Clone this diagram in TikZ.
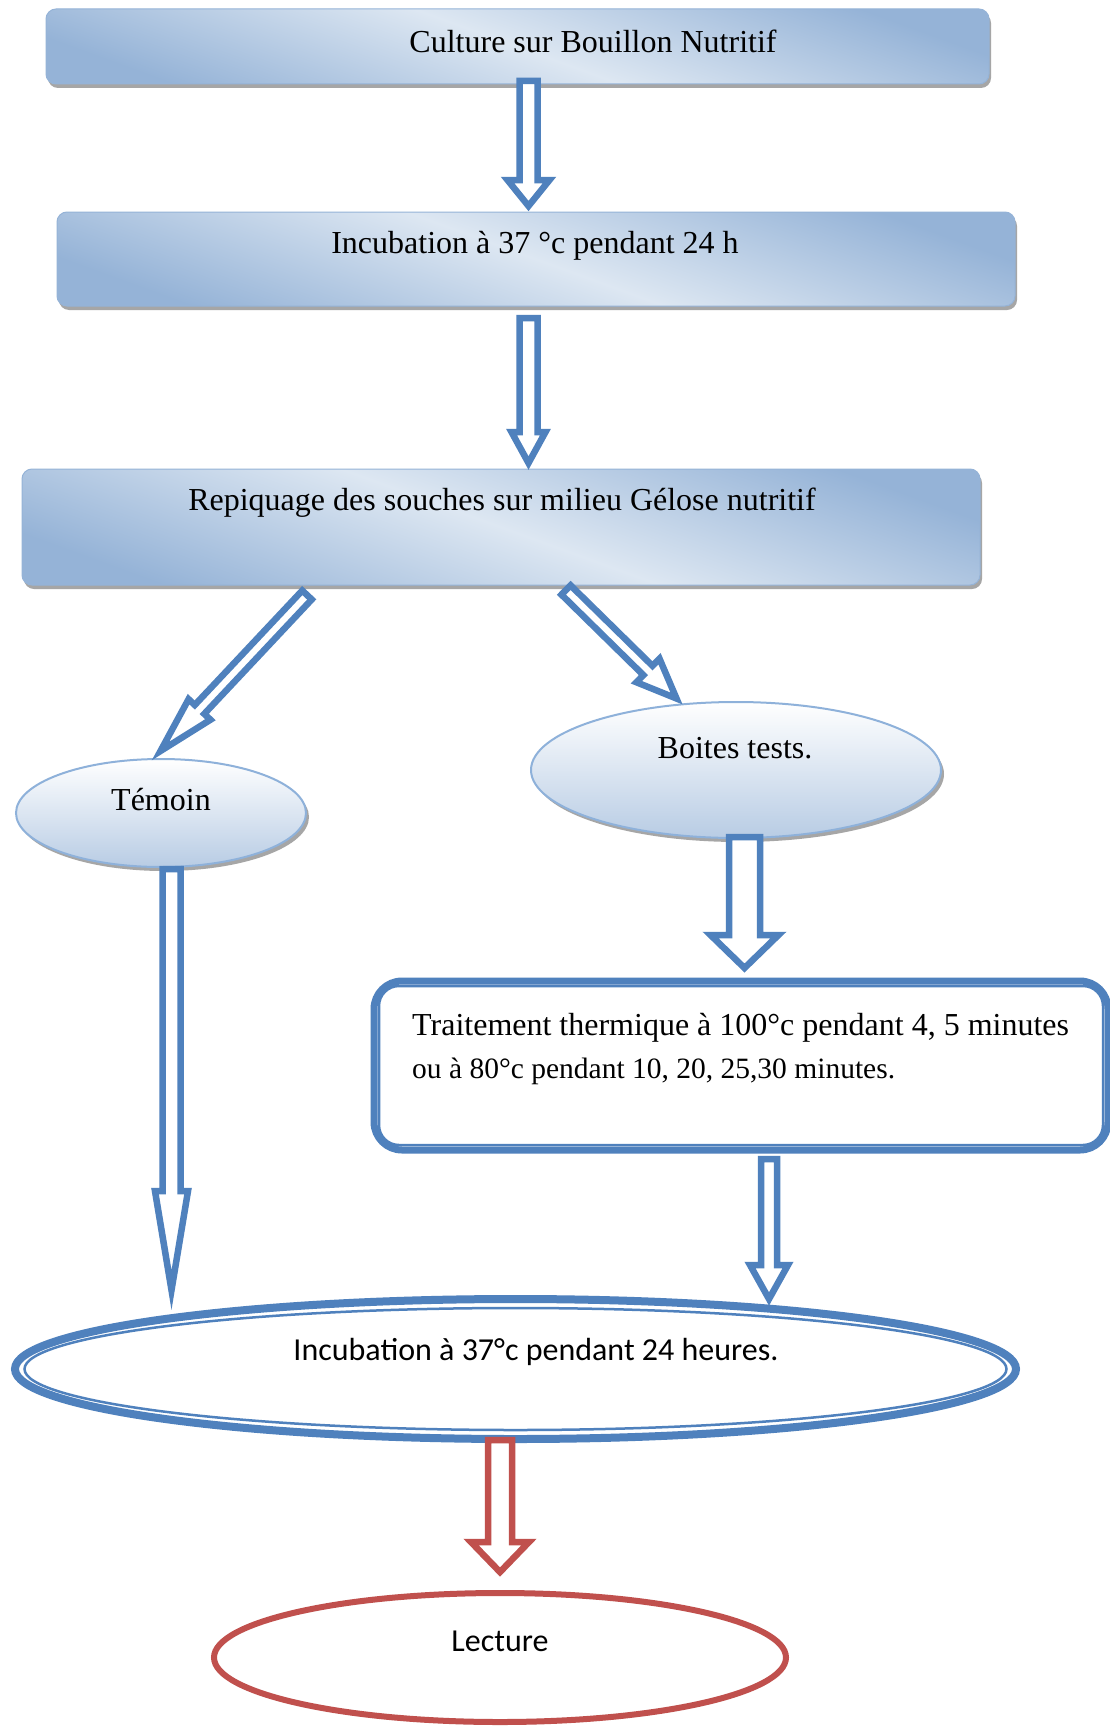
\documentclass[tikz,border=0pt]{standalone}
\usepackage{fontspec}
\setmainfont{Liberation Serif}
\newfontfamily\calib{Carlito}
\usetikzlibrary{calc,shapes.geometric,shadows}
\definecolor{wblue}{HTML}{4F81BD}
\definecolor{wred}{HTML}{C0504D}
\definecolor{bdark}{HTML}{95B3D7}
\definecolor{blight}{HTML}{DDE7F2}
\definecolor{eborder}{HTML}{8EB1DA}
\definecolor{ebottom}{HTML}{B8CCE4}
\definecolor{shad}{HTML}{A6A6A6}
\tikzset{
  gbox/.style={rectangle, rounded corners=10, draw=bdark, line width=1,
    top color=bdark, bottom color=bdark, middle color=blight, shading angle=-20,
    drop shadow={shadow xshift=2pt, shadow yshift=-4pt, fill=shad, opacity=1},
    inner sep=0pt},
  gell/.style={ellipse, draw=eborder, line width=2, top color=white, bottom color=ebottom,
    drop shadow={shadow xshift=3pt, shadow yshift=-4pt, fill=shad, opacity=1},
    inner sep=0pt},
  serif32/.style={font=\fontsize{32}{38}\selectfont, inner sep=0pt},
  sans32/.style={font=\calib\fontsize{32}{38}\selectfont, inner sep=0pt},
  barrow/.style={line width=6.5, fill=white, line join=miter},
}
\newcommand\blockarrow[6]{%
  \path ($(#3)!#6!(#2)$) coordinate (bah);
  \draw[barrow, draw=#1]
    ($(#2)!#4!90:(#3)$) -- ($(bah)!#4!-90:(#2)$) -- ($(bah)!#5!-90:(#2)$) -- (#3)
    -- ($(bah)!#5!90:(#2)$) -- ($(bah)!#4!90:(#2)$) -- ($(#2)!#4!-90:(#3)$) -- cycle;
}
\begin{document}
\begin{tikzpicture}[x=1pt, y=-1pt]
\useasboundingbox (0,0) rectangle (1110,1726);
\fill[white] (0,0) rectangle (1110,1726);

% boxes
\node[gbox, minimum width=943, minimum height=75] (b1) at (517.5,46.5) {};
\node[serif32] (t1) at (593,41) {Culture sur Bouillon Nutritif};
\node[gbox, minimum width=958, minimum height=94] (b2) at (536,259) {};
\node[serif32] (t2) at (535,246) {Incubation à 37 °c pendant 24 h};
\node[gbox, minimum width=958, minimum height=116] (b3) at (501,527) {};
\node[serif32] (t3) at (502,503) {Repiquage des souches sur milieu Gélose nutritif};

% ellipses
\node[gell, minimum width=290, minimum height=108] (tem) at (161,813) {};
\node[serif32] (ttem) at (161,800) {Témoin};
\node[gell, minimum width=410, minimum height=136] (boi) at (736,770) {};
\node[serif32] (tboi) at (735,748) {Boites tests.};

% traitement box
\node[rectangle, rounded corners=28, draw=wblue, line width=7, minimum width=734, minimum height=169] (tr) at (741,1065.5) {};
\draw[wblue, line width=2.5, rounded corners=20] ([shift={(8.5,8.5)}]tr.north west) rectangle ([shift={(-8.5,-8.5)}]tr.south east);
\node[anchor=base west, inner sep=0pt, font=\fontsize{32}{38}\selectfont] (ttr1) at (412,1035)
  {Traitement thermique à 100°c pendant 4, 5 minutes};
\node[anchor=base west, inner sep=0pt, font=\fontsize{29.5}{36}\selectfont] (ttr2) at (412,1078)
  {ou à 80°c pendant 10, 20, 25,30 minutes.};

% big incubation ellipse
\node[ellipse, draw=wblue, line width=8, minimum width=1001, minimum height=140, inner sep=0pt] (inc) at (515.5,1369) {};
\draw[wblue, line width=2.5] (inc.center) ellipse [x radius=491pt, y radius=61pt];
\node[sans32] (tinc) at (536,1352) {Incubation à 37°c pendant 24 heures.};

% lecture
\node[ellipse, draw=wred, line width=6, minimum width=572, minimum height=129, inner sep=0pt] (lec) at (500,1657.5) {};
\node[sans32] (tlec) at (500,1641) {Lecture};

% arrow end points
\coordinate (a1s) at (528.5,81);   \coordinate (a1e) at (528.5,206);
\coordinate (a2s) at (528.5,318);  \coordinate (a2e) at (528.5,463);
\coordinate (a3s) at (307,595);    \coordinate (a3e) at (160.5,751);
\coordinate (a4s) at (566,590);    \coordinate (a4e) at (676.5,698.5);
\coordinate (a5s) at (171.5,869);  \coordinate (a5e) at (171.5,1290);
\coordinate (a6s) at (744.5,837);  \coordinate (a6e) at (744.5,968);
\coordinate (a7s) at (769,1159);   \coordinate (a7e) at (769,1299);
\coordinate (a8s) at (500,1440);   \coordinate (a8e) at (500,1572);

\blockarrow{wblue}{a1s}{a1e}{9pt}{21pt}{26pt}
\blockarrow{wblue}{a2s}{a2e}{9pt}{17pt}{31pt}
\blockarrow{wblue}{a3s}{a3e}{6.5pt}{15pt}{57pt}
\blockarrow{wblue}{a4s}{a4e}{6.5pt}{16.5pt}{40pt}
\blockarrow{wblue}{a5s}{a5e}{9pt}{16.5pt}{99pt}
\blockarrow{wblue}{a6s}{a6e}{15.5pt}{34pt}{33pt}
\blockarrow{wblue}{a7s}{a7e}{8pt}{19pt}{34pt}
\blockarrow{wred}{a8s}{a8e}{12pt}{29pt}{30pt}
\end{tikzpicture}
\end{document}
